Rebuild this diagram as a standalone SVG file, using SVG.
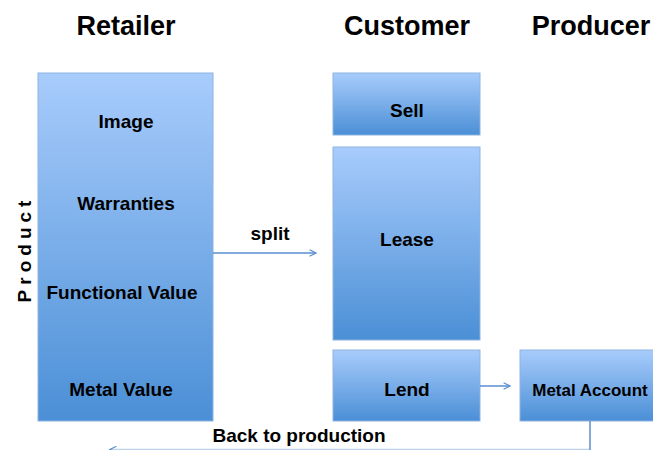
<svg xmlns="http://www.w3.org/2000/svg" width="653" height="450" viewBox="0 0 653 450">
  <style>
    .title { font-family: "Liberation Sans", Arial, sans-serif; font-weight: bold; font-size: 27px; fill: #000; text-anchor: middle; }
    .lbl { font-family: "Liberation Sans", Arial, sans-serif; font-weight: bold; font-size: 19px; fill: #000; text-anchor: middle; }
    .small { font-size: 17px; }
    .box { fill: url(#blue); stroke: #8db3df; stroke-width: 1; }
    .conn { stroke: #5b8ed0; stroke-width: 1.5; fill: none; }
  </style>
  <defs>
    <linearGradient id="blue" x1="0" y1="0" x2="0" y2="1">
      <stop offset="0" stop-color="#a8ccfc"/>
      <stop offset="1" stop-color="#4b8fd6"/>
    </linearGradient>
    <marker id="arr" viewBox="0 0 10 10" refX="9" refY="5" markerWidth="8" markerHeight="8" orient="auto" markerUnits="userSpaceOnUse">
      <path d="M1,1 L9,5 L1,9" fill="none" stroke="#5b8ed0" stroke-width="1.5"/>
    </marker>
  </defs>

  <rect width="653" height="450" fill="#fff"/>

  <text class="title" x="126" y="35">Retailer</text>
  <text class="title" x="407" y="35">Customer</text>
  <text class="title" x="591" y="35">Producer</text>

  <text x="31" y="249" transform="rotate(-90 31 249)" font-family="Liberation Sans, Arial, sans-serif" font-weight="bold" font-size="19" letter-spacing="5" text-anchor="middle">Product</text>

  <g id="retailer">
    <rect class="box" x="38" y="73" width="175" height="348"/>
    <text class="lbl" x="126" y="128">Image</text>
    <text class="lbl" x="126" y="210">Warranties</text>
    <text class="lbl" x="122" y="299">Functional Value</text>
    <text class="lbl" x="121" y="396">Metal Value</text>
  </g>

  <g id="sell">
    <rect class="box" x="333" y="73" width="147" height="62"/>
    <text class="lbl" x="407" y="117">Sell</text>
  </g>

  <g id="lease">
    <rect class="box" x="333" y="147" width="147" height="193"/>
    <text class="lbl" x="407" y="246">Lease</text>
  </g>

  <g id="lend">
    <rect class="box" x="333" y="350" width="147" height="71"/>
    <text class="lbl" x="407" y="396">Lend</text>
  </g>

  <g id="metal-account">
    <rect class="box" x="520" y="350" width="140" height="71"/>
    <text class="lbl small" x="590" y="396">Metal Account</text>
  </g>

  <g id="connectors">
    <line class="conn" x1="213" y1="253" x2="316" y2="253" marker-end="url(#arr)"/>
    <text class="lbl" x="270" y="240">split</text>
    <line class="conn" x1="480" y1="386" x2="510" y2="386" marker-end="url(#arr)"/>
    <line class="conn" x1="590" y1="421" x2="590" y2="450"/>
    <line class="conn" x1="590" y1="449.5" x2="110" y2="449.5" marker-end="url(#arr)" stroke-opacity="0.4"/>
    <text class="lbl" x="299" y="442">Back to production</text>
  </g>
</svg>
